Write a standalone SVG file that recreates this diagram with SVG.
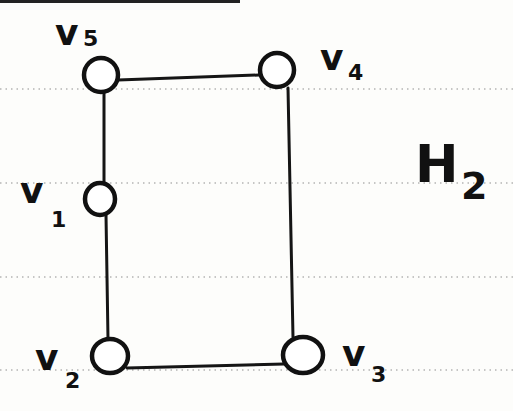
<svg xmlns="http://www.w3.org/2000/svg" width="513" height="411" viewBox="0 0 513 411">
<style>
.ruled{stroke:#b4b4b4;stroke-width:1.5;stroke-dasharray:1.5 4;fill:none}
.edge{stroke:#151515;stroke-width:3;fill:none;stroke-linecap:round}
.node{stroke:#111;stroke-width:4.5;fill:#fff}
.lbl{font-family:"DejaVu Sans","Liberation Sans",sans-serif;fill:#111;font-weight:bold}
.v{font-size:36px}
.sub{font-size:22px}
</style>
<rect width="513" height="411" fill="#fdfdfb"/>
<rect x="0" y="0" width="240" height="3" fill="#222"/>
<g id="ruling">
<line class="ruled" x1="0" y1="89" x2="513" y2="89"/>
<line class="ruled" x1="0" y1="183" x2="513" y2="183"/>
<line class="ruled" x1="0" y1="277" x2="513" y2="277"/>
<line class="ruled" x1="0" y1="370" x2="513" y2="370"/>
</g>
<g id="connectors">
<line class="edge" x1="118" y1="80" x2="259" y2="75"/>
<line class="edge" x1="104" y1="93" x2="104" y2="183"/>
<line class="edge" x1="106" y1="215" x2="108" y2="339"/>
<line class="edge" x1="288" y1="88" x2="293" y2="337"/>
<line class="edge" x1="127" y1="368" x2="284" y2="364"/>
</g>
<g id="v5"><circle class="node" cx="101" cy="75" r="17"/><text class="lbl v" x="55" y="45">v</text><text class="lbl sub" x="83" y="46">5</text></g>
<g id="v4"><circle class="node" cx="277" cy="70" r="17"/><text class="lbl v" x="320" y="70">v</text><text class="lbl sub" x="348" y="80">4</text></g>
<g id="v1"><ellipse class="node" cx="100" cy="199" rx="15" ry="16"/><text class="lbl v" x="20" y="203">v</text><text class="lbl sub" x="51" y="227">1</text></g>
<g id="v2"><ellipse class="node" cx="110" cy="356" rx="18" ry="17"/><text class="lbl v" x="35" y="370">v</text><text class="lbl sub" x="65" y="388">2</text></g>
<g id="v3"><ellipse class="node" cx="303" cy="355" rx="20" ry="18"/><text class="lbl v" x="342" y="366">v</text><text class="lbl sub" x="371" y="382">3</text></g>
<g id="H2"><text class="lbl" x="415" y="182" font-size="52">H</text><text class="lbl" x="461" y="199" font-size="38">2</text></g>
</svg>
